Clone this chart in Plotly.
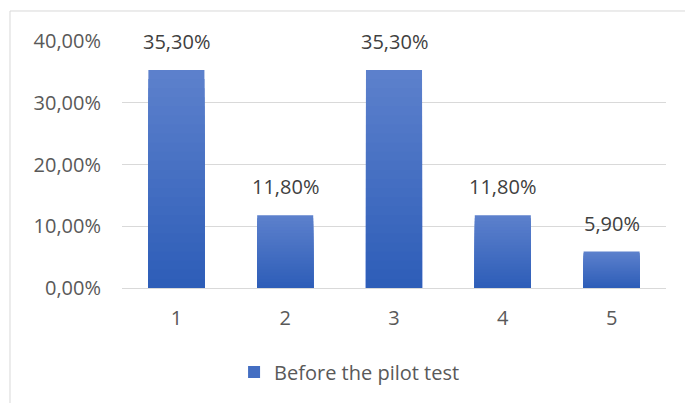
import plotly.graph_objects as go

categories = ["1", "2", "3", "4", "5"]
values = [35.3, 11.8, 35.3, 11.8, 5.9]
series_name = "Before the pilot test"
y_ticks = [0, 10, 20, 30, 40]
y_tick_labels = ["0,00%", "10,00%", "20,00%", "30,00%", "40,00%"]

labels = [f"{v:.2f}%".replace(".", ",") for v in values]

FONT = "Open Sans"
TXT = "#595959"
TOP_RGB = (92, 128, 204)
BOT_RGB = (46, 94, 184)
N_LAYERS = 24

fig = go.Figure()
# vertical colour gradient for each bar: overlaid layers of the same bars, shrinking toward the base
for k in range(N_LAYERS):
    f = 1 - k / N_LAYERS
    t = k / (N_LAYERS - 1)
    rgb = tuple(round(a + (b - a) * t) for a, b in zip(TOP_RGB, BOT_RGB))
    fig.add_trace(go.Bar(
        x=categories, y=[v * f for v in values],
        name=series_name, showlegend=(k == N_LAYERS // 2),
        marker=dict(color="rgb(%d,%d,%d)" % rgb, line=dict(width=0)),
        hoverinfo="skip",
    ))

for i, (v, t) in enumerate(zip(values, labels)):
    fig.add_annotation(x=i, y=v, text=t, showarrow=False, yanchor="bottom",
                       yshift=13, font=dict(family=FONT, size=20, color="#404040"))

fig.add_shape(type="rect", xref="paper", yref="paper",
              x0=-0.2059, x1=1.3, y0=-0.7, y1=1.1215,
              line=dict(color="#d9d9d9", width=1), fillcolor="rgba(0,0,0,0)", layer="below")

fig.update_layout(
    width=685, height=403,
    margin=dict(l=122, r=19, t=41, b=115, autoexpand=False),
    paper_bgcolor="white", plot_bgcolor="white",
    barmode="overlay",
    bargap=0.485,
    font=dict(family=FONT, size=20, color=TXT),
    showlegend=True,
    legend=dict(orientation="h", x=0.206, xanchor="left", y=-0.34, yanchor="middle",
                font=dict(family=FONT, size=20, color=TXT), bgcolor="rgba(0,0,0,0)"),
    xaxis=dict(type="category", showgrid=False, showline=True, linecolor="#d9d9d9", linewidth=1,
               ticks="", tickfont=dict(family=FONT, size=20, color=TXT),
               ticklabelstandoff=12, fixedrange=True, automargin=False),
    yaxis=dict(range=[0, 40], tickmode="array", tickvals=y_ticks, ticktext=y_tick_labels,
               showgrid=True, gridcolor="#d9d9d9", gridwidth=1, zeroline=False,
               showline=False, ticks="", ticklabelstandoff=20, automargin=False,
               tickfont=dict(family=FONT, size=20, color=TXT), fixedrange=True),
)

fig.write_html("out.html", config={"displayModeBar": False},
               post_script="document.body.style.margin='0';document.body.style.overflow='hidden';")
